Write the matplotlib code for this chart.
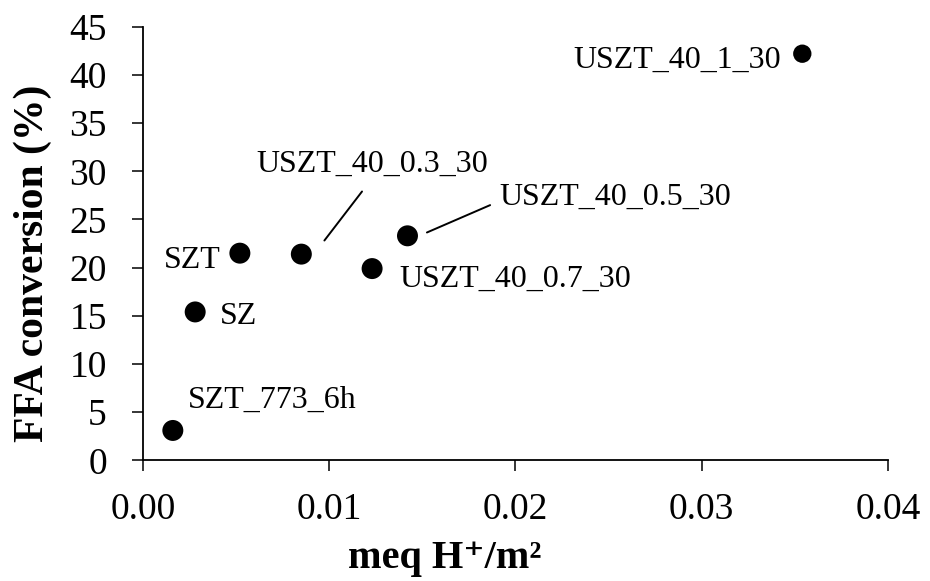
import matplotlib
matplotlib.use('Agg')
import matplotlib.pyplot as plt
from matplotlib.transforms import offset_copy

plt.rcParams['font.family'] = ['Liberation Serif', 'DejaVu Serif']

# acid site density vs FFA conversion for each catalyst
samples = ['SZT_773_6h', 'SZ', 'SZT', 'USZT_40_0.3_30', 'USZT_40_0.7_30',
           'USZT_40_0.5_30', 'USZT_40_1_30']
meq_h = [0.0016, 0.0028, 0.0052, 0.0085, 0.0123, 0.0142, 0.0354]
ffa_conv = [3.1, 15.4, 21.5, 21.4, 19.9, 23.3, 42.2]
marker_area = [228, 228, 228, 228, 228, 228, 174]

xticks = [0.00, 0.01, 0.02, 0.03, 0.04]
xtick_labels = ['0.00', '0.01', '0.02', '0.03', '0.04']
yticks = list(range(0, 50, 5))

# label placement (offset points from the marker) and alignment
label_off = [(11.1, 16.3), (18, -8.4), (-13.9, -10.6), (50.8, 59.3),
             (19.9, -13.2), (66.2, 22.1), (-15.6, -10.3)]
label_ha = ['left', 'left', 'right', 'center', 'left', 'left', 'right']
# leader lines: start and end offsets (points) from the marker
leaders = {3: ((16.6, 9.8), (43.7, 45.1)),
           5: ((14.0, 2.4), (59.5, 22.1))}

fig = plt.figure(figsize=(9.3, 5.81), dpi=100)
ax = fig.add_axes([0.1538, 0.2077, 0.801, 0.7463])

ax.scatter(meq_h, ffa_conv, s=marker_area, color='black', zorder=3,
           linewidths=0)

for i, name in enumerate(samples):
    ax.annotate(name, (meq_h[i], ffa_conv[i]), xytext=label_off[i],
                textcoords='offset points', ha=label_ha[i], va='baseline',
                fontsize=23)

for i, (a, b) in leaders.items():
    start = offset_copy(ax.transData, fig=fig, x=a[0], y=a[1], units='points')
    ax.annotate('', xy=(meq_h[i], ffa_conv[i]), xycoords=start,
                xytext=(b[0] - a[0], b[1] - a[1]), textcoords='offset points',
                arrowprops=dict(arrowstyle='-', color='black', lw=1.4,
                                shrinkA=0, shrinkB=0))

ax.set_xlim(0, 0.04)
ax.set_ylim(0, 45)
ax.set_xticks(xticks)
ax.set_xticklabels(xtick_labels)
ax.set_yticks(yticks)

for s in ['top', 'right']:
    ax.spines[s].set_visible(False)
for s in ['left', 'bottom']:
    ax.spines[s].set_linewidth(1.3)

ax.tick_params(axis='both', direction='out', length=8, width=1.1,
               labelsize=27)
ax.tick_params(axis='y', pad=18)
ax.tick_params(axis='x', pad=15)

ax.set_xlabel('meq H\u207a/m\u00b2', fontsize=29, fontweight='bold')
ax.xaxis.set_label_coords(0.405, -0.184)
ax.set_ylabel('FFA conversion (%)', fontsize=30, fontweight='bold')
ax.yaxis.set_label_coords(-0.122, 0.455)

fig.savefig('out.png', dpi=100)
